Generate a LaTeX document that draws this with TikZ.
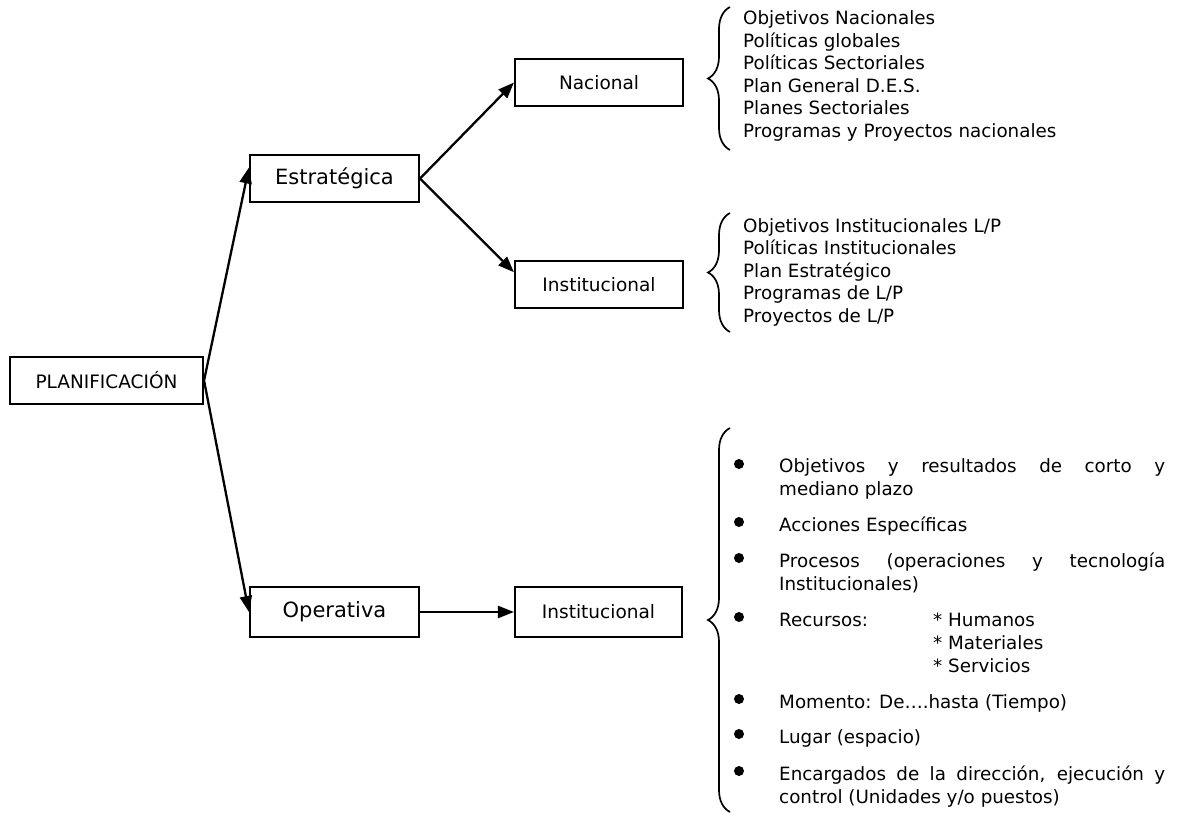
\documentclass[tikz,border=0pt]{standalone}
\usepackage{fontspec}
\setmainfont{DejaVu Sans}
\usetikzlibrary{arrows.meta,calc,decorations.pathreplacing}
\begin{document}
\begin{tikzpicture}[x=1pt,y=-1pt,
  box/.style={draw,line width=2.1pt,inner sep=0pt,font=\fontsize{18.5}{22}\selectfont},
  bigbox/.style={box,font=\fontsize{21}{25}\selectfont},
  conn/.style={line width=2.3pt,-{Triangle[length=16pt,width=12pt]}},
  lst/.style={inner sep=0pt,anchor=base west,font=\fontsize{18.3}{22}\selectfont},
  brc/.style={line width=1.7pt,decorate,decoration={brace,amplitude=22pt,aspect=0.5}},
  dot/.style={circle,fill,inner sep=0pt,minimum size=10pt}]
\useasboundingbox (0,0) rectangle (1177,813);

% boxes
\node[box,minimum width=193pt,minimum height=47pt] (plan) at (106.5,380.5) {PLANIFICACIÓN};
\node[bigbox,minimum width=169pt,minimum height=47pt] (estr) at (334.5,178.5) {Estratégica};
\node[box,minimum width=168pt,minimum height=47pt] (nac) at (599,82.5) {Nacional};
\node[box,minimum width=168pt,minimum height=47pt] (inst1) at (599,284.5) {Institucional};
\node[bigbox,minimum width=169pt,minimum height=50pt] (oper) at (334.5,612) {Operativa};
\node[box,minimum width=167pt,minimum height=50pt] (inst2) at (598.5,612) {Institucional};

% connectors
\draw[conn] (plan.east) -- ($(estr.north west)!0.55!(estr.west)$);
\draw[conn] (plan.east) -- (oper.west);
\draw[conn] (estr.east) -- (nac.west);
\draw[conn] (estr.east) -- ($(inst1.north west)!0.5!(inst1.west)$);
\draw[conn] (oper.east) -- (inst2.west);

% braces
\draw[brc] (730,150) -- (730,7);
\draw[brc] (730,332) -- (730,213);
\draw[brc] (730,812) -- (730,428);

% list 1
\node[lst] (a1) at (743,25) {Objetivos Nacionales};
\node[lst] (a2) at (743,47.5) {Políticas globales};
\node[lst] (a3) at (743,70) {Políticas Sectoriales};
\node[lst] (a4) at (743,92.5) {Plan General D.E.S.};
\node[lst] (a5) at (743,115) {Planes Sectoriales};
\node[lst] (a6) at (743,137.5) {Programas y Proyectos nacionales};

% list 2
\node[lst] (b1) at (743,232) {Objetivos Institucionales L/P};
\node[lst] (b2) at (743,254.5) {Políticas Institucionales};
\node[lst] (b3) at (743,277) {Plan Estratégico};
\node[lst] (b4) at (743,299.5) {Programas de L/P};
\node[lst] (b5) at (743,322) {Proyectos de L/P};

% list 3
\node[lst] (c1) at (779,472) {\makebox[386pt][s]{Objetivos y resultados de corto y}};
\node[lst] (c2) at (779,495) {mediano plazo};
\node[lst] (c3) at (779,531) {Acciones Específicas};
\node[lst] (c4) at (779,567) {\makebox[386pt][s]{Procesos (operaciones y tecnología}};
\node[lst] (c5) at (779,590) {Institucionales)};
\node[lst] (c6) at (779,626) {Recursos:};
\node[lst] (c7) at (933,626) {* Humanos};
\node[lst] (c8) at (933,649) {* Materiales};
\node[lst] (c9) at (933,672) {* Servicios};
\node[lst] (c10) at (779,708) {Momento: De….hasta (Tiempo)};
\node[lst] (c11) at (779,743) {Lugar (espacio)};
\node[lst] (c12) at (779,780) {\makebox[386pt][s]{Encargados de la dirección, ejecución y}};
\node[lst] (c13) at (779,803) {control (Unidades y/o puestos)};

% bullets
\foreach \yy/\nm in {464/d1,522/d2,558/d3,617/d4,699/d5,734/d6,771/d7}
  \node[dot] (\nm) at (739,\yy) {};
\end{tikzpicture}
\end{document}
